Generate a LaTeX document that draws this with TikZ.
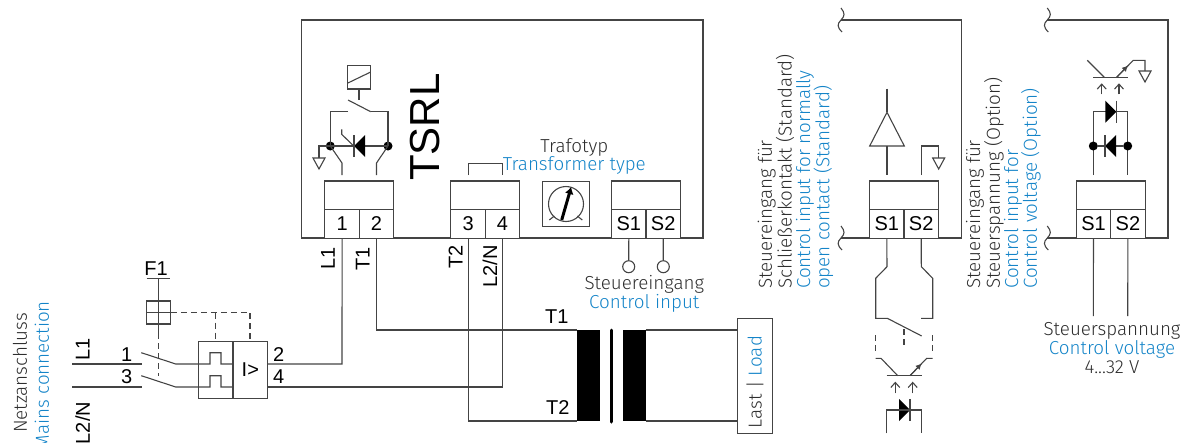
\documentclass[tikz,border=0pt]{standalone}
\usepackage{fontspec}
\setmainfont{Fira Sans}[UprightFont=* Light]
\newfontfamily\arialf{Liberation Sans}
\usetikzlibrary{arrows.meta,positioning}
\definecolor{wirecol}{HTML}{444444}
\definecolor{txtgray}{HTML}{2E2E2E}
\definecolor{txtblue}{HTML}{1484C8}
\tikzset{
  wire/.style={draw=wirecol,line width=1.1pt},
  dashwire/.style={wire,dash pattern=on 6pt off 4pt},
  txt/.style={font=\fontsize{18.8}{20}\selectfont,text=txtgray,inner sep=0pt},
  bluetxt/.style={txt,text=txtblue},
  lab/.style={font=\arialf\fontsize{20}{20}\selectfont,text=black,inner sep=0pt},
  termhead/.style={wire,fill=white,minimum width=68.8pt,minimum height=28.7pt,inner sep=0pt},
  termcell/.style={wire,fill=white,lab,minimum width=34.4pt,minimum height=28.4pt,inner sep=0pt},
  pin/.style={circle,wire,fill=white,minimum width=12pt,inner sep=0pt},
  blob/.style={circle,fill=black,minimum width=9pt,inner sep=0pt},
  box/.style={wire,inner sep=0pt},
  diode/.pic={\fill[black] (-11,-11) -- (0,0) -- (-11,11) -- cycle; \draw[wire] (0,-11) -- (0,11);},
  gnd/.pic={\draw[wire] (-6,0) -- (6,0) -- (0,11) -- cycle;},
  breakmark/.pic={\draw[wire] (0,-12) .. controls (4,-7) and (4,-4) .. (0,0) .. controls (-4,4) and (-4,7) .. (1,12);},
  lightup/.style={wire,-{Straight Barb[length=5pt,width=9pt]}},
  emit/.style={wire,-{Latex[length=6pt,width=6pt]}}
}
\begin{document}
\begin{tikzpicture}[x=1pt,y=-1pt]
\useasboundingbox (0,0) rectangle (1186,442);
% device box and frames
\node[box,minimum width=401.3pt,minimum height=218pt] (tsrl) at (502.35,129){};
\coordinate (fa) at (841,20); \coordinate (fb) at (961.3,238); \coordinate (fc) at (841,238);
\draw[wire] (fa) -| (fb) -- (fc);
\coordinate (ga) at (1047.3,20); \coordinate (gb) at (1168,238); \coordinate (gc) at (1047.3,238);
\draw[wire] (ga) -| (gb) -- (gc);
\foreach \p in {fa,fc,ga,gc}{\pic at (\p) {breakmark};}
% terminal blocks
\foreach \nm/\x/\l/\r in {a/359.3/1/2,b/485.3/3/4,c/646/S1/S2,d/904/S1/S2,e/1110.7/S1/S2}{
  \node[termhead] (\nm h) at (\x,195.3){};
  \node[termcell] (\nm l) at (\x-17.2,224){\l};
  \node[termcell] (\nm r) at (\x+17.2,224){\r};
}
\node[lab,font=\arialf\fontsize{42}{42}\selectfont,rotate=90] (name) at (425,127) {TSRL};
% relay and triac
\node[box,minimum width=23.4pt,minimum height=23.4pt] (coil) at (359,77.3){};
\coordinate (cu) at (347.3,83.3); \coordinate (cv) at (370.7,72);
\draw[wire] (cu) -- (cv);
\coordinate (st) at (359,100);
\draw[wire] (coil.south) -- (st);
\coordinate (ka) at (348,100); \coordinate (kb) at (370.7,111.7); \coordinate (kc) at (348,111.7);
\draw[wire] (ka) -- (kb);
\node[blob] (da) at (330.3,146){};
\node[blob] (db) at (388,146){};
\draw[wire] (kb) -| (db.center);
\draw[wire] (kc) -| (da.center);
\coordinate (ge) at (319,146); \coordinate (gn) at (319,158);
\draw[wire] (gn) |- (db.center);
\pic at (gn) {gnd};
\pic[xscale=-1] at (354,146) {diode};
\coordinate (ga1) at (341.7,129.3); \coordinate (ga2) at (341.7,134.3); \coordinate (ga3) at (353.7,146);
\draw[wire] (ga1) -- (ga2) -- (ga3);
\coordinate (sa) at (342,163); \coordinate (sb) at (342,175);
\coordinate (sc) at (376.5,163); \coordinate (sd) at (376.5,175);
\draw[wire] (da.center) -- (sa) -- (sb);
\draw[wire] (db.center) -- (sc) -- (sd);
% jumper, dial
\coordinate (ja) at (468.3,175); \coordinate (jb) at (502.5,175); \coordinate (jc) at (468.3,163.3);
\draw[wire] (ja) -- (jc) -| (jb);
\node[txt] (tt) at (574.3,147.5) {Trafotyp};
\node[bluetxt] (tte) at (574.3,165) {Transformer type};
\node[box,minimum width=46.7pt,minimum height=45.4pt] (dial) at (565.7,204){};
\node[circle,wire,minimum width=35pt,inner sep=0pt] (dc) at (566,204){};
\coordinate (pa) at (561.7,220); \coordinate (pb) at (571.2,187);
\draw[wire,draw=black,line width=3pt,-{Latex[length=7pt,width=9pt]}] (pa) -- (pb);
\coordinate (ta) at (549.3,220); \coordinate (tb) at (554.3,216);
\coordinate (tc) at (582.3,220); \coordinate (td) at (577.3,216);
\draw[wire] (ta) -- (tb) (tc) -- (td);
% control input pins
\node[pin] (pl) at (628.7,266.7){};
\node[pin] (pr) at (663.3,266.7){};
\draw[wire] (cl.south) -- (pl) (cr.south) -- (pr);
\node[txt] (ct) at (644.3,284) {Steuereingang};
\node[bluetxt] (cte) at (644.3,303) {Control input};
% wires to breaker and transformer
\node[box,minimum width=34.7pt,minimum height=57pt] (bka) at (215.65,369.8){};
\node[box,lab,minimum width=34.7pt,minimum height=57pt] (bkb) at (250.35,369.8){I>};
\coordinate (q2) at (267.7,364); \coordinate (q4) at (267.7,387);
\coordinate (w1) at (342,364); \coordinate (w4) at (502.5,387);
\draw[wire] (al.south) -- (w1) -- (q2);
\draw[wire] (br.south) -- (w4) -- (q4);
\fill[black] (577.3,330) rectangle (600,421);
\fill[black] (623.3,330) rectangle (645.7,421);
\draw[draw=black,line width=3pt,line cap=round] (611.7,330) -- (611.7,422);
\coordinate (x1) at (577.3,330); \coordinate (x2) at (577.3,421);
\draw[wire] (ar.south) |- (x1);
\draw[wire] (bl.south) |- (x2);
\node[lab] (lt1) at (556.7,316.7) {T1};
\node[lab] (lt2) at (557.7,408) {T2};
\node[box,minimum width=34.6pt,minimum height=115pt] (load) at (755,375.8){};
\coordinate (y1) at (645.7,330); \coordinate (y2) at (645.7,421);
\draw[wire] (y1) -- (y1 -| load.west);
\draw[wire] (y2) -- (y2 -| load.west);
\node[txt,rotate=90] (lt) at (755,382) {Last | \textcolor{txtblue}{Load}};
% wire labels at the device
\node[lab,rotate=90,anchor=east] (n1) at (328,247) {L1};
\node[lab,rotate=90,anchor=east] (n2) at (362.7,247) {T1};
\node[lab,rotate=90,anchor=east] (n3) at (455.7,245) {T2};
\node[lab,rotate=90,anchor=east] (n4) at (490,245) {L2/N};
% mains side
\node[txt,rotate=90,anchor=east] (net) at (20,313) {Netzanschluss};
\node[bluetxt,rotate=90,anchor=east] (nete) at (42,301) {Mains connection};
\node[lab,rotate=90,anchor=east] (m1) at (82.7,338) {L1};
\node[lab,rotate=90,anchor=east] (m2) at (82.7,401.7) {L2/N};
\coordinate (l1) at (72,364); \coordinate (l2) at (141.7,364);
\coordinate (l3) at (72,387); \coordinate (l4) at (141.7,387);
\draw[wire] (l1) -- (l2) (l3) -- (l4);
\node[lab] (c1) at (126.7,354.3) {1};
\node[lab] (c3) at (126.7,377) {3};
\node[lab] (c2) at (278.7,354.3) {2};
\node[lab] (c4) at (278.7,377) {4};
\coordinate (sw1) at (141.3,352.7); \coordinate (sw3) at (141.3,375.7);
\coordinate (e1) at (175.7,364); \coordinate (e3) at (175.7,387);
\coordinate (f1) at (210,364); \coordinate (f2) at (210,352.7); \coordinate (f3) at (221,352.7); \coordinate (f4) at (221,364); \coordinate (f5) at (233,364);
\coordinate (h1) at (210,387); \coordinate (h2) at (210,375.7); \coordinate (h3) at (221,375.7); \coordinate (h4) at (221,387); \coordinate (h5) at (233,387);
\draw[wire] (sw1) -- (e1) -- (f1) -- (f2) -- (f3) -- (f4) -- (f5);
\draw[wire] (sw3) -- (e3) -- (h1) -- (h2) -- (h3) -- (h4) -- (h5);
% fuse
\node[lab] (fu) at (156,268.3) {F1};
\coordinate (fl) at (146.7,278.3); \coordinate (fr) at (170,278.3); \coordinate (fm) at (158.3,278.3); \coordinate (fd) at (158.3,333); \coordinate (fe) at (158.3,376);
\draw[wire] (fl) -- (fr) (fm) -- (fd);
\draw[dashwire] (fd) -- (fe);
\node[box,minimum width=23.4pt,minimum height=23pt] (fs) at (158.6,312.5){};
\coordinate (da1) at (215.7,312.5); \coordinate (da2) at (250,312.5);
\draw[wire] (fs.west) -- (fs.east);
\draw[dashwire] (fs.east) -- (da2) -- (da2 |- bkb.north);
\draw[dashwire] (da1) -- (da1 |- bka.north);
% first option, normally open contact
\node[txt,rotate=90,anchor=west] (ta1) at (766.7,289) {Steuereingang für};
\node[txt,rotate=90,anchor=west] (ta2) at (785,289) {Schließerkontakt (Standard)};
\node[bluetxt,rotate=90,anchor=west] (ta3) at (805,289) {Control input for normally};
\node[bluetxt,rotate=90,anchor=west] (ta4) at (823.3,289) {open contact (Standard)};
\coordinate (am) at (887,88.7); \coordinate (an) at (887,112.3);
\coordinate (ao) at (869.7,146); \coordinate (ap) at (904.3,146);
\coordinate (aq) at (887,146); \coordinate (ar2) at (887,175);
\draw[wire] (an) -- (ao) -- (ap) -- cycle;
\draw[wire] (am) -- (an) (aq) -- (ar2);
\coordinate (as) at (921.3,175); \coordinate (au) at (938.7,158);
\draw[wire] (as) |- (938.7,146) -- (au);
\pic at (au) {gnd};
\coordinate (ba) at (887,266.7); \coordinate (bb) at (875.7,278.3); \coordinate (bc) at (875.7,318.3); \coordinate (bd) at (887.3,318.3); \coordinate (be) at (921.7,336);
\draw[wire] (dl.south) -- (ba) -- (bb) -- (bc) -- (bd) -- (be);
\coordinate (bf) at (921.3,266.7); \coordinate (bg) at (932.7,278.3); \coordinate (bh) at (932.7,318.3); \coordinate (bi) at (921,318.3);
\draw[wire] (dr.south) -- (bf) -- (bg) -- (bh) -- (bi);
\draw[dashwire] (875.7,335) -- (875.7,354);
\draw[dashwire] (932.7,335) -- (932.7,354);
\draw[dashwire] (904,329) -- (904,348);
\coordinate (oa) at (875.7,358.3); \coordinate (ob) at (881,358.3); \coordinate (oc) at (897.7,375.7);
\draw[wire] (oa) -- (ob) -- (oc);
\coordinate (od) at (886.7,375.7); \coordinate (oe) at (921.7,375.7);
\draw[wire] (od) -- (oe);
\coordinate (of) at (910,375.7); \coordinate (og) at (921.7,363.5); \coordinate (oh) at (926.7,358.3); \coordinate (oi) at (932.7,358.3);
\draw[wire] (of) -- (oh) -- (oi);
\draw[emit] (of) -- (og);
\foreach \x in {895.3,912.7}{\draw[lightup] (\x,393.3) -- (\x,381.7);}
\pic at (910,410) {diode};
\coordinate (ra) at (886.7,433.3); \coordinate (rb) at (921.7,433.3);
\draw[wire] (ra) |- (910,410) -| (rb);
% second option, control voltage
\node[txt,rotate=90,anchor=west] (tb1) at (975,289) {Steuereingang für};
\node[txt,rotate=90,anchor=west] (tb2) at (994,289) {Steuerspannung (Option)};
\node[bluetxt,rotate=90,anchor=west] (tb3) at (1013,289) {Control input for};
\node[bluetxt,rotate=90,anchor=west] (tb4) at (1031,289) {Control voltage (Option)};
\coordinate (va) at (1093.3,175); \coordinate (vb) at (1127.7,175);
\coordinate (vc) at (1093.3,111.7); \coordinate (vd) at (1127.7,111.7);
\draw[wire] (va) -- (vc) -- (vd) -- (vb);
\pic at (1116.3,111.7) {diode};
\node[blob] (dc1) at (1093.3,146){};
\node[blob] (dc2) at (1127.7,146){};
\draw[wire] (dc1) -- (dc2);
\pic[xscale=-1] at (1105,146) {diode};
\foreach \x in {1101.7,1119}{\draw[lightup] (\x,94.3) -- (\x,83.3);}
\coordinate (wa) at (1093.3,77.3); \coordinate (wb) at (1127.7,77.3);
\draw[wire] (wa) -- (wb);
\coordinate (wc) at (1087.3,60.3); \coordinate (wd) at (1104.3,77.3);
\draw[wire] (wc) -- (wd);
\coordinate (we) at (1116.7,77.3); \coordinate (wf) at (1128,65.5); \coordinate (wg) at (1133.3,60.3); \coordinate (wh) at (1145,60.3); \coordinate (wi) at (1145,71);
\draw[wire] (we) -- (wg) -- (wh) -- (wi);
\draw[emit] (we) -- (wf);
\pic at (wi) {gnd};
\coordinate (za) at (1093.3,316); \coordinate (zb) at (1127.7,316);
\draw[wire] (el.south) -- (za) (er.south) -- (zb);
\node[txt] (cv1) at (1112,331) {Steuerspannung};
\node[bluetxt] (cv2) at (1112,349) {Control voltage};
\node[txt] (cv3) at (1112,367) {4...32 V};
\end{tikzpicture}
\end{document}
